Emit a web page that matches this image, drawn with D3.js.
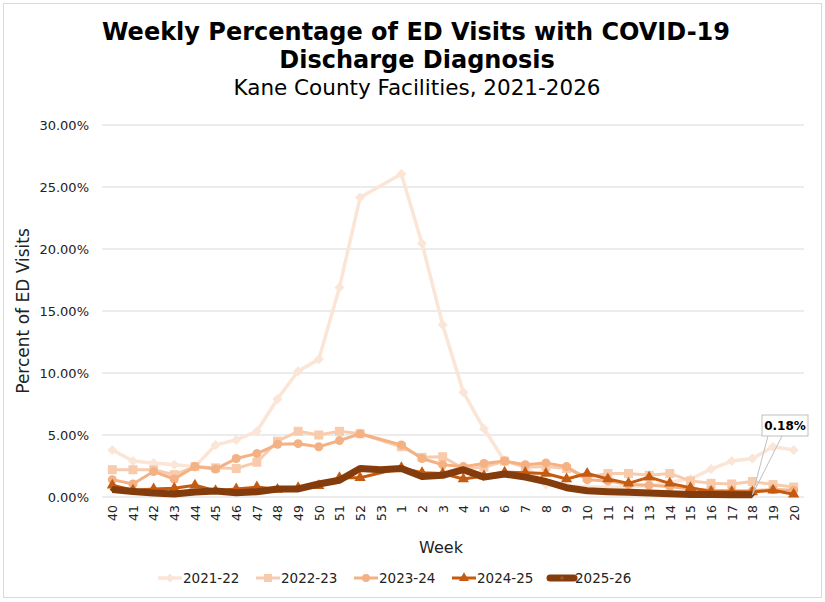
<!DOCTYPE html>
<html>
<head>
<meta charset="utf-8">
<script src="https://cdn.jsdelivr.net/npm/d3@7"></script>
<style>
  body { margin: 0; background: #fff; }
  text { font-family: "DejaVu Sans", Verdana, sans-serif; }
</style>
</head>
<body>
<script>
// week labels along the x axis (season starts at week 40)
const weeks = ["40","41","42","43","44","45","46","47","48","49","50","51","52","53",
  "1","2","3","4","5","6","7","8","9","10","11","12","13","14","15","16","17","18","19","20"]

// percent of ED visits, one array per season (null = no value that week)
const s2122 = [3.8, 2.9, 2.75, 2.6, 2.45, 4.2, 4.6, 5.3, 7.9, 10.15, 11.1, 16.9, 24.15, null,
  26.05, 20.45, 13.9, 8.45, 5.5, 2.9, 2.5, 1.0, 0.9, 0.8, 0.8, 0.8, 0.9, 1.2, 1.45, 2.25, 2.9, 3.1, 4.05, 3.8]
const s2223 = [2.2, 2.2, 2.2, 1.8, 2.45, 2.35, 2.3, 2.8, 4.5, 5.3, 5.0, 5.3, 5.1, null,
  4.05, 3.2, 3.25, 2.3, 2.4, 2.9, 2.4, 2.45, 2.3, 1.6, 1.9, 1.9, 1.75, 1.9, 1.3, 1.1, 1.05, 1.25, 1.0, 0.8]
const s2324 = [1.4, 1.05, 2.05, 1.45, 2.45, 2.25, 3.1, 3.5, 4.25, 4.3, 4.05, 4.55, 5.1, null,
  4.2, 3.1, 2.6, 2.45, 2.7, 2.9, 2.6, 2.75, 2.45, 1.4, 1.3, 1.0, 0.95, 0.85, 0.65, 0.55, 0.5, 0.5, 0.6, 0.55]
const s2425 = [0.95, 0.55, 0.65, 0.7, 0.95, 0.5, 0.65, 0.8, 0.6, 0.75, 0.9, 1.55, 1.55, null,
  2.35, 1.95, 1.9, 1.45, 1.7, 2.0, 1.95, 1.9, 1.45, 1.9, 1.45, 1.1, 1.6, 1.1, 0.75, 0.45, 0.42, 0.4, 0.55, 0.22]
const s2526 = [0.6, 0.45, 0.32, 0.25, 0.4, 0.48, 0.35, 0.42, 0.65, 0.65, 1.05, 1.35, 2.3, 2.2,
  2.3, 1.65, 1.75, 2.2, 1.6, 1.85, 1.6, 1.25, 0.75, 0.5, 0.43, 0.38, 0.32, 0.27, 0.2, 0.2, 0.19, 0.18, null, null]

const seasonNames = ["2021-22", "2022-23", "2023-24", "2024-25", "2025-26"]
const seasonValues = [s2122, s2223, s2324, s2425, s2526]
const yTicks = [0, 5, 10, 15, 20, 25, 30]

const colors = ["#fbe5d6", "#f8cbad", "#f4b183", "#c55a11", "#843c0c"]
const lineWidths = [3.5, 3, 3, 3, 7]
const markers = [
  { type: d3.symbolSquare, size: 50, rotate: 45 },
  { type: d3.symbolSquare, size: 81, rotate: 0 },
  { type: d3.symbolCircle, size: 64, rotate: 0 },
  { type: d3.symbolTriangle, size: 55, rotate: 0 },
  { type: d3.symbolSquare, size: 14, rotate: 45 }
]

const W = 825, H = 602
const svg = d3.select("body").append("svg")
  .attr("width", W)
  .attr("height", H)

svg.append("rect")
  .attr("x", 3.5).attr("y", 3.5)
  .attr("width", 818).attr("height", 594)
  .attr("fill", "#fff")
  .attr("stroke", "#d9d9d9")

// titles
svg.append("text")
  .attr("x", 416).attr("y", 40)
  .attr("text-anchor", "middle")
  .style("font-size", "24px").style("font-weight", "bold")
  .text("Weekly Percentage of ED Visits with COVID-19")
svg.append("text")
  .attr("x", 417).attr("y", 68)
  .attr("text-anchor", "middle")
  .style("font-size", "24px").style("font-weight", "bold")
  .text("Discharge Diagnosis")
svg.append("text")
  .attr("x", 417).attr("y", 95)
  .attr("text-anchor", "middle")
  .style("font-size", "21.5px")
  .text("Kane County Facilities, 2021-2026")

const x = d3.scalePoint()
  .domain(weeks)
  .range([102, 804])
  .padding(0.5)
const y = d3.scaleLinear()
  .domain([0, 30])
  .range([497, 125])

// gridlines
svg.append("g")
  .selectAll("line")
  .data(yTicks)
  .join("line")
  .attr("x1", 102).attr("x2", 804)
  .attr("y1", (d) => y(d)).attr("y2", (d) => y(d))
  .attr("stroke", "#d9d9d9")
  .attr("stroke-width", 1)

// y axis labels
const yAxis = svg.append("g")
  .attr("transform", "translate(89,0)")
  .call(d3.axisLeft(y).tickValues(yTicks).tickSize(0).tickPadding(0)
    .tickFormat((d) => d3.format(".2f")(d) + "%"))
yAxis.select(".domain").remove()
yAxis.selectAll("text")
  .style("font-size", "13px")
  .style("font-family", "\"DejaVu Sans\", Verdana, sans-serif")
  .attr("fill", "#222")

// x axis labels (rotated)
const xAxis = svg.append("g")
  .attr("transform", "translate(0,497)")
  .call(d3.axisBottom(x).tickSize(0))
xAxis.select(".domain").remove()
xAxis.selectAll("text")
  .style("font-size", "12.5px")
  .style("font-family", "\"DejaVu Sans\", Verdana, sans-serif")
  .attr("fill", "#222")
  .attr("transform", "rotate(-90)")
  .attr("text-anchor", "end")
  .attr("x", -8)
  .attr("y", 0)
  .attr("dy", "0.35em")

svg.append("text")
  .attr("transform", "translate(23,311) rotate(-90)")
  .attr("text-anchor", "middle")
  .attr("dy", "0.35em")
  .style("font-size", "17px")
  .attr("fill", "#222")
  .text("Percent of ED Visits")
svg.append("text")
  .attr("x", 441).attr("y", 553)
  .attr("text-anchor", "middle")
  .style("font-size", "16px")
  .attr("fill", "#222")
  .text("Week")

// series
const line = d3.line()
  .x((d) => x(d.week))
  .y((d) => y(d.value))

const series = seasonNames.map((name, i) => ({
  name,
  i,
  points: weeks.map((w, j) => ({ week: w, value: seasonValues[i][j] }))
    .filter((p) => p.value !== null)
}))

const g = svg.append("g")
  .selectAll("g")
  .data(series)
  .join("g")

g.append("path")
  .attr("d", (d) => line(d.points))
  .attr("fill", "none")
  .attr("stroke", (d) => colors[d.i])
  .attr("stroke-width", (d) => lineWidths[d.i])
  .attr("stroke-linejoin", "round")

g.each(function (s) {
  const m = markers[s.i]
  d3.select(this).selectAll(".mk")
    .data(s.points)
    .join("path")
    .attr("class", "mk")
    .attr("d", d3.symbol().type(m.type).size(m.size))
    .attr("transform", (d) => `translate(${x(d.week)},${y(d.value)}) rotate(${m.rotate})`)
    .attr("fill", colors[s.i])
})

// callout for the latest value
const last = series[4].points[series[4].points.length - 1]
const px = x(last.week), py = y(last.value)
const bx = 762, by = 415, bw = 46, bh = 21
svg.append("path")
  .attr("d", `M${bx + 6},${by + bh} L${px},${py} L${bx + 20},${by + bh}`)
  .attr("fill", "none")
  .attr("stroke", "#bfbfbf")
svg.append("rect")
  .attr("x", bx).attr("y", by)
  .attr("width", bw).attr("height", bh)
  .attr("fill", "#fff")
  .attr("stroke", "#bfbfbf")
svg.append("text")
  .attr("x", bx + bw / 2).attr("y", by + bh / 2)
  .attr("dy", "0.35em")
  .attr("text-anchor", "middle")
  .style("font-size", "12px").style("font-weight", "bold")
  .text(d3.format(".2f")(last.value) + "%")

// legend
const legend = svg.append("g")
  .selectAll("g")
  .data(series)
  .join("g")
  .attr("transform", (d) => `translate(${158 + d.i * 98},578)`)
legend.append("line")
  .attr("x1", 0).attr("x2", 24)
  .attr("stroke", (d) => colors[d.i])
  .attr("stroke-width", (d) => lineWidths[d.i])
  .attr("stroke-linecap", (d) => d.i === 4 ? "round" : "butt")
legend.append("path")
  .attr("d", (d) => d3.symbol().type(markers[d.i].type).size(markers[d.i].size * 0.8)())
  .attr("transform", (d) => `translate(12,0) rotate(${markers[d.i].rotate})`)
  .attr("fill", (d) => d.i === 4 ? "#a0522d" : colors[d.i])
legend.append("text")
  .attr("x", 25)
  .attr("dy", "0.35em")
  .style("font-size", "13.5px")
  .attr("fill", "#222")
  .text((d) => d.name)
</script>
</body>
</html>
